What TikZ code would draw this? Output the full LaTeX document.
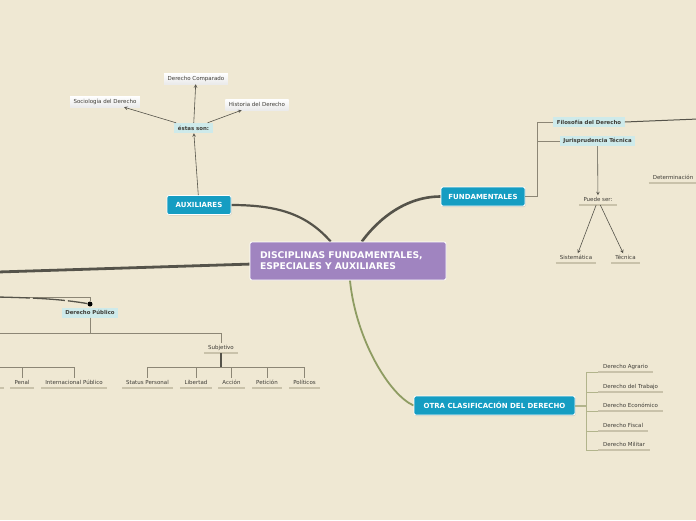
\documentclass[tikz,border=0pt]{standalone}
\usepackage{fontspec}
\setmainfont{DejaVu Sans}
\usepackage{tikz}
\usetikzlibrary{arrows,shapes,shadows}
\pgfdeclarelayer{background}
\pgfsetlayers{background,main}
\definecolor{paper}{RGB}{239,232,211}
\definecolor{rootcol}{RGB}{160,132,192}
\definecolor{topiccol}{RGB}{21,157,194}
\definecolor{subcol}{RGB}{206,234,234}
\definecolor{inkcol}{RGB}{62,60,54}
\definecolor{trunkcol}{RGB}{85,83,74}
\definecolor{greencol}{RGB}{142,156,98}
\definecolor{branchcol}{RGB}{140,134,117}
\definecolor{olivecol}{RGB}{178,180,140}
\definecolor{ulinecol}{RGB}{201,194,170}
\tikzstyle{root}=[rectangle, draw=white, thick, fill=rootcol
,rounded corners=2pt, text=white
,font=\fontsize{9.2}{11}\selectfont\bfseries
,align=left, text width=176pt, inner xsep=10pt, minimum height=38pt
]
\tikzstyle{topic}=[rectangle, draw=white, thick, fill=topiccol
,rounded corners=2pt, text=white
,font=\fontsize{7}{8}\selectfont\bfseries
,minimum height=19pt, inner xsep=6pt
,drop shadow={opacity=0.25, shadow xshift=0.6pt, shadow yshift=-1pt}
]
\tikzstyle{sub}=[rectangle, fill=subcol, text=inkcol
,font=\fontsize{5.4}{6}\selectfont\bfseries
,minimum height=10pt, inner xsep=3.5pt, inner ysep=0pt
]
\tikzstyle{card}=[rectangle, top color=white, bottom color=black!8, text=inkcol
,font=\fontsize{5.5}{6}\selectfont
,minimum height=11pt, inner xsep=3.5pt, inner ysep=0pt
]
\tikzstyle{leaf}=[text=inkcol, font=\fontsize{5.5}{6}\selectfont
,text height=4pt, text depth=1.3pt, inner xsep=4pt, inner ysep=2pt
]
\tikzstyle{uline} = [draw=ulinecol, line width=1.2pt]
\tikzstyle{arrow} = [draw=trunkcol, line width=0.6pt, -stealth]
\tikzstyle{branch} = [draw=branchcol, line width=0.8pt]
\tikzstyle{trunk} = [draw=trunkcol, line width=2.2pt]

\begin{document}
\begin{tikzpicture}[x=1pt,y=-1pt]
    \useasboundingbox (0,0) rectangle (696,520);
    \begin{pgfonlayer}{background}
        \fill[paper] (0,0) rectangle (696,520);
    \end{pgfonlayer}

    % The root and the three main topics
    \node[root] (disc) at (348,261) {DISCIPLINAS FUNDAMENTALES,\\ESPECIALES Y AUXILIARES};
    \node[topic, minimum width=64pt] (aux) at (199,205) {AUXILIARES};
    \node[topic, minimum width=84pt] (fund) at (483,196.5) {FUNDAMENTALES};
    \node[topic, minimum width=161pt] (otra) at (494.5,405.5) {OTRA CLASIFICACIÓN DEL DERECHO};

    % Boxed subtopics
    \node[sub] (estas) at (193.5,128) {éstas son:};
    \node[sub] (filo) at (589,122) {Filosofía del Derecho};
    \node[sub] (juris) at (597.5,141) {Jurisprudencia Técnica};
    \node[sub] (dpub) at (90,312.5) {Derecho Público};
    \foreach \pos/\name/\txt in {{(196,78.5)/comp/Derecho Comparado}, {(105,101.5)/socio/Sociología del Derecho}, {(257,104.5)/hist/Historia del Derecho}}
        \node[card] (\name) at \pos {\txt};

    % Underlined leaves
    \foreach \pos/\name/\txt in {{(598,205)/puede/Puede ser:}, {(576,263)/sist/Sistemática}, {(625.5,263)/tecn/Técnica}, {(673,183)/deter/Determinación}, {(221,353)/subj/Subjetivo}, {(147.5,388)/stat/Status Personal}, {(196,388)/lib/Libertad}, {(231.5,388)/acc/Acción}, {(267,388)/pet/Petición}, {(304.5,388)/pol/Políticos}, {(22,388)/pen/Penal}, {(74,388)/intl/Internacional Público}}
        \node[leaf, anchor=south] (\name) at \pos {\txt};
    \foreach \y/\name/\txt in {372/agr/Derecho Agrario, 392/trab/Derecho del Trabajo, 411/econ/Derecho Económico, 431/fisc/Derecho Fiscal, 450/mil/Derecho Militar}
        \node[leaf, anchor=south west, inner xsep=5pt] (\name) at (598,\y) {\txt};
    \foreach \name in {puede, sist, tecn, deter, subj, stat, lib, acc, pet, pol, pen, intl, agr, trab, econ, fisc, mil}
        \path[uline] (\name.south west) -- (\name.south east);
    \path[uline] (-2,388) -- (4,388);

    % Free ends off the page
    \coordinate (leftend) at (-2,272);
    \coordinate (dpin) at (-2,297);
    \coordinate (dpleft) at (-2,333);
    \coordinate (publeft) at (-2,367);
    \coordinate (filoright) at (698,119);
    \node[circle, fill=black, inner sep=0pt, minimum size=5pt] (dpdot) at (90,304) {};

    % Thick connectors behind the root
    \begin{pgfonlayer}{background}
        \path[trunk] (aux.east) .. controls +(50,0) and +(-40,-45) .. (disc);
        \path[trunk, line width=2.6pt] (fund.west) .. controls +(-40,0) and +(25,-35) .. (disc);
        \path[trunk, draw=greencol, line width=1.8pt] (disc) .. controls +(8,79) and +(-24,-10.5) .. (otra.west);
        \path[trunk, line width=2.8pt] (disc) -- (leftend);
    \end{pgfonlayer}

    % AUXILIARES
    \path[arrow] (aux) -- (estas);
    \foreach \dest in {comp, socio, hist}
        \path[arrow] (estas) -- (\dest);

    % FUNDAMENTALES
    \foreach \dest in {filo, juris}
        \path[branch] (fund.east) -- ++(12,0) |- (\dest.west);
    \path[trunk, line width=1pt] (filo.east) -- (filoright);
    \path[arrow] (juris) -- (puede);
    \foreach \dest in {sist, tecn}
        \path[arrow] (puede) -- (\dest);

    % OTRA CLASIFICACION
    \foreach \dest in {agr, trab, econ, fisc, mil}
        \path[branch, draw=olivecol] (otra.east) -- ++(11,0) |- (\dest.south west);
    \path[draw=olivecol, line width=2pt] (otra.east) -- ++(11,0);

    % Derecho Publico
    \path[branch, line width=0.6pt] (dpin) -| (dpdot);
    \path[trunk, line width=1.3pt, dash pattern=on 32pt off 3pt] (dpin) .. controls +(40,1) and +(-30,-5) .. (dpdot);
    \path[branch] (dpub.south) |- (dpleft);
    \path[branch] (dpub.south) -- ++(0,15.5) -| (subj.north);
    \foreach \dest in {stat, lib, acc, pet, pol}
        \path[branch] (subj.south) -- ++(0,14) -| (\dest.north);
    \path[trunk, line width=1.2pt] (subj.south) -- ++(0,14);
    \foreach \dest in {pen, intl}
        \path[branch] (publeft) -| (\dest.north);

\end{tikzpicture}
\end{document}
